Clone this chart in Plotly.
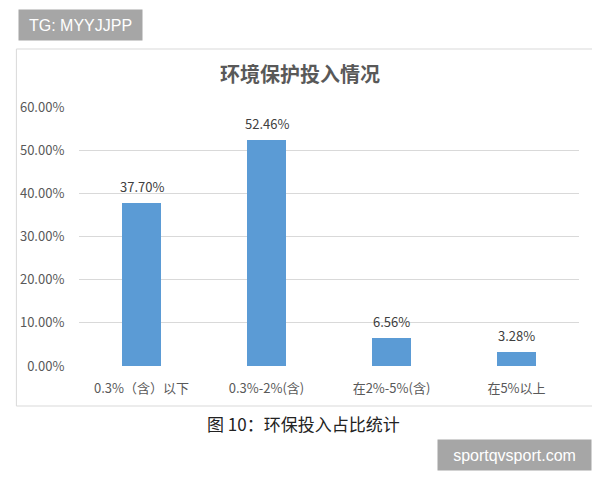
import plotly.graph_objects as go

categories = ["0.3%（含）以下", "0.3%-2%(含)", "在2%-5%(含)", "在5%以上"]
shares = [0.3770, 0.5246, 0.0656, 0.0328]
y_ticks = [0, 0.1, 0.2, 0.3, 0.4, 0.5, 0.6]

# the page puts the figure 8px in from the top-left corner
OFF = 8
W, H = 600 - OFF, 480 - OFF
ML, MR, MT, MB = 72 - OFF, 21, 107 - OFF, 114
pw = W - ML - MR
ph = H - MT - MB

def px_x(v):
    return (v - OFF - ML) / pw

def px_y(v):
    return (H - MB - (v - OFF)) / ph

font_cjk = "Noto Sans CJK SC, Microsoft YaHei, sans-serif"

fig = go.Figure()
fig.add_trace(go.Bar(
    x=categories,
    y=shares,
    marker=dict(color="#5B9BD5", line=dict(width=0)),
    width=0.31,
    showlegend=False
))

# value labels above the bars
for c, v in zip(categories, shares):
    fig.add_annotation(
        x=c, y=v, text=f"{v:.2%}",
        showarrow=False, yanchor="bottom", yshift=5,
        font=dict(size=13, color="#404040", family=font_cjk)
    )

fig.update_layout(
    width=W, height=H,
    margin=dict(l=ML, r=MR, t=MT, b=MB),
    paper_bgcolor="white",
    plot_bgcolor="white",
    font=dict(family=font_cjk, color="#595959"),
    title=dict(
        text="<b>环境保护投入情况</b>",
        x=(300 - OFF) / W, xanchor="center",
        y=1 - (75 - OFF) / H, yref="container", yanchor="middle",
        font=dict(size=20, color="#595959", family=font_cjk)
    ),
    xaxis=dict(
        showgrid=False, zeroline=False, showline=False,
        ticks="outside", ticklen=10, tickcolor="rgba(0,0,0,0)",
        tickfont=dict(size=13, color="#595959"),
        range=[-0.5, 3.5]
    ),
    yaxis=dict(
        range=[0, 0.6],
        tickvals=y_ticks,
        tickformat=".2%",
        showgrid=True, gridcolor="#d9d9d9", gridwidth=1,
        zeroline=False, showline=False,
        ticks="outside", ticklen=11, tickcolor="rgba(0,0,0,0)",
        tickfont=dict(size=13, color="#595959")
    ),
    bargap=0
)

# chart frame
fig.add_shape(
    type="rect", xref="paper", yref="paper",
    x0=px_x(8.5), x1=px_x(597), y0=px_y(406), y1=px_y(49),
    line=dict(color="#d9d9d9", width=1), fillcolor="rgba(0,0,0,0)",
    layer="below"
)

# caption
fig.add_annotation(
    text="图 10：环保投入占比统计",
    xref="paper", yref="paper",
    x=px_x(300), y=px_y(423), xanchor="center", yanchor="middle",
    showarrow=False,
    font=dict(size=17, color="#222222", family=font_cjk)
)

# watermark boxes
fig.add_annotation(
    text="TG: MYYJJPP",
    xref="paper", yref="paper",
    x=px_x(10), y=px_y(25), xanchor="left", yanchor="middle",
    showarrow=False, width=121, height=28, bgcolor="#a6a6a6",
    font=dict(size=16, color="white", family="Liberation Sans, Arial, sans-serif")
)
fig.add_annotation(
    text="sportqvsport.com",
    xref="paper", yref="paper",
    x=px_x(435), y=px_y(455), xanchor="left", yanchor="middle",
    showarrow=False, width=151, height=28, bgcolor="#a6a6a6",
    font=dict(size=16, color="white", family="Liberation Sans, Arial, sans-serif")
)

fig.write_html("out.html")
